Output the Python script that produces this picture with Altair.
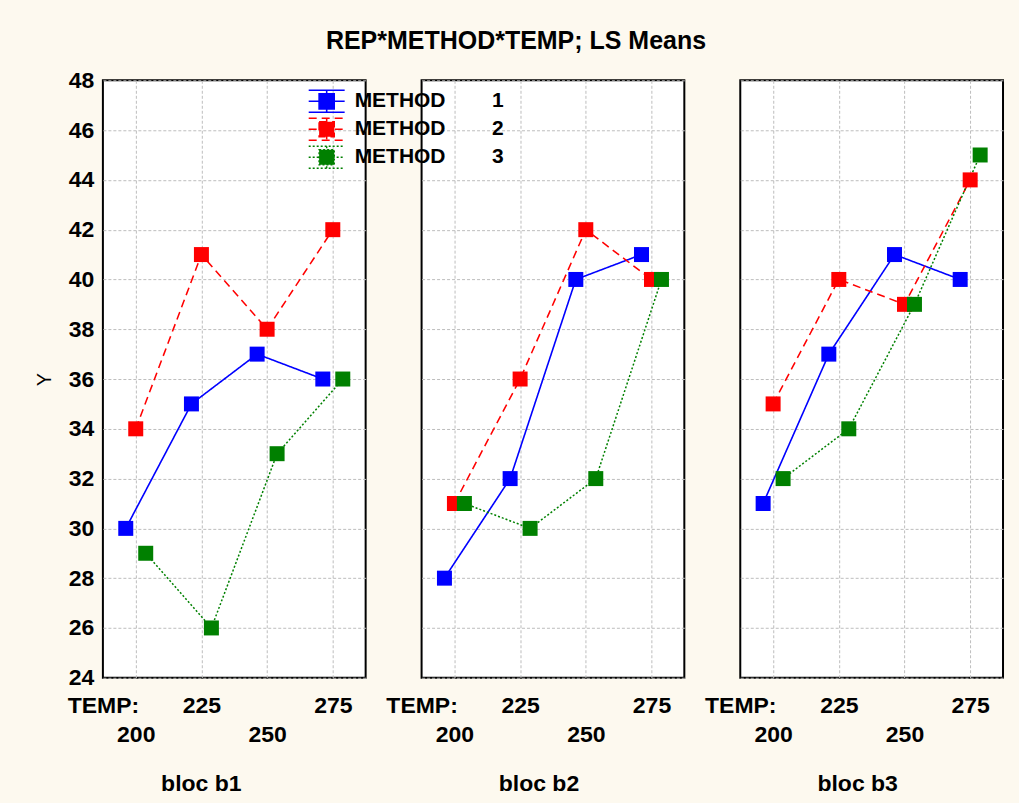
import altair as alt
import pandas as pd

temps = [200, 225, 250, 275]
blocs = ["b1", "b2", "b3"]
methods = ["1", "2", "3"]

# LS means: values[bloc][method] over temps
b1_m1 = [30, 35, 37, 36]
b1_m2 = [34, 41, 38, 42]
b1_m3 = [29, 26, 33, 36]
b2_m1 = [28, 32, 40, 41]
b2_m2 = [31, 36, 42, 40]
b2_m3 = [31, 30, 32, 40]
b3_m1 = [31, 37, 41, 40]
b3_m2 = [35, 40, 39, 44]
b3_m3 = [32, 34, 39, 45]

series = {
    "b1": [b1_m1, b1_m2, b1_m3],
    "b2": [b2_m1, b2_m2, b2_m3],
    "b3": [b3_m1, b3_m2, b3_m3],
}
y_ticks = list(range(24, 49, 2))
x_ticks = [187.5] + temps

rows = []
for b in blocs:
    for m, vals in zip(methods, series[b]):
        for t, v in zip(temps, vals):
            rows.append({"bloc": b, "method": m, "temp": t, "y": v})
df = pd.DataFrame(rows)

FONT = "Liberation Sans"
colors = ["#0000FF", "#FF0000", "#008000"]
legend_path = ("M-1.5,-0.92H1.5M-1.5,0.92H1.5M0,-0.92V0.92M-1.5,0H1.5"
               "M-0.63,-0.63H0.63V0.63H-0.63Z")
nb = "\u00a0" * 8
leg = alt.Legend(
    orient="none", legendX=211, legendY=8, title=None,
    symbolType=legend_path, symbolSize=576, symbolStrokeWidth=1.5,
    labelFont=FONT, labelFontWeight="bold", labelFontSize=21, labelColor="black",
    labelOffset=15, rowPadding=-6, padding=0,
    labelExpr=f"'METHOD' + '{nb}' + datum.label",
)


def panel(b, first):
    base = alt.Chart(df).transform_filter(alt.datum.bloc == b).transform_calculate(
        xpos="datum.temp + (toNumber(datum.method) - 2) * 3.8"
    )
    xaxis = alt.Axis(
        values=x_ticks, title=f"bloc {b}", grid=True, ticks=False, domain=False,
        labelOverlap=False, labelFlush=False, labelBound=False,
        labelExpr="datum.value < 190 ? 'TEMP:' : (datum.value == 200 || datum.value == 250) ? ['', datum.label] : datum.label",
        labelFont=FONT, labelFontWeight="bold", labelFontSize=23, labelColor="black",
        labelBaseline="alphabetic", labelPadding=35, labelLineHeight=29,
        titleFont=FONT, titleFontWeight="bold", titleFontSize=23, titleColor="black",
        titleBaseline="alphabetic", titleY=113, titleX=98 if first else 117, titleAlign="center",
        gridColor={"condition": {"test": "datum.value < 190", "value": "transparent"}, "value": "#bdbdbd"},
        gridDash=[3, 2], gridWidth=1,
    )
    if first:
        yaxis = alt.Axis(
            values=y_ticks, title="Y", grid=True, ticks=False, domain=False,
            labelFont=FONT, labelFontWeight="bold", labelFontSize=23, labelColor="black",
            labelPadding=9, labelOverlap=False, labelFlush=False,
            titleFont=FONT, titleFontWeight="normal", titleFontSize=20, titleColor="black",
            titleX=-58, titleY=299, titleAlign="center", titleBaseline="middle", titleAngle=-90,
            gridColor="#bdbdbd", gridDash=[3, 2], gridWidth=1,
        )
    else:
        yaxis = alt.Axis(
            values=y_ticks, title=None, grid=True, ticks=False, domain=False, labels=False,
            gridColor="#bdbdbd", gridDash=[3, 2], gridWidth=1,
        )
    x = alt.X("xpos:Q", scale=alt.Scale(domain=[187.5, 287.5], nice=False, zero=False), axis=xaxis)
    y = alt.Y("y:Q", scale=alt.Scale(domain=[24, 48], nice=False, zero=False), axis=yaxis)
    lines = base.mark_line().encode(
        x=x, y=y,
        detail="method:N",
        stroke=alt.Stroke("method:N", scale=alt.Scale(domain=methods, range=colors), legend=leg),
        strokeDash=alt.StrokeDash("method:N", scale=alt.Scale(domain=methods, range=[[1, 0], [8, 5], [2, 2]]), legend=None),
        strokeWidth=alt.StrokeWidth("method:N", scale=alt.Scale(domain=methods, range=[1.6, 1.5, 2.2]), legend=None),
        order="temp:Q",
    )
    pts = base.mark_square(size=225, opacity=1, strokeWidth=0).encode(
        x=x, y=y,
        fill=alt.Fill("method:N", scale=alt.Scale(domain=methods, range=colors), legend=leg),
    )
    return alt.layer(lines, pts).properties(width=263, height=598)


chart = alt.hconcat(panel("b1", True), panel("b2", False), panel("b3", False), spacing=56, bounds="flush").properties(
    title=alt.Title("REP*METHOD*TEMP; LS Means", font=FONT, fontWeight="bold", fontSize=25, color="black",
                    anchor="middle", offset=14, dx=-3),
    padding={"left": 34, "top": 29, "right": 15, "bottom": 7},
    background="#FDF9EF",
).configure_view(
    stroke="black", strokeWidth=2, fill="white"
)

chart.save("out.html", embed_options={"renderer": "svg", "actions": False})
